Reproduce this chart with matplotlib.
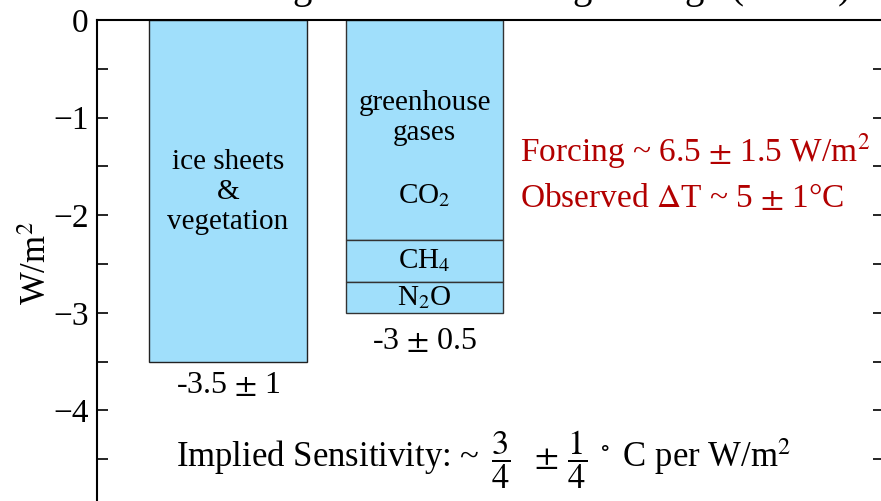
import matplotlib
matplotlib.use("Agg")
import matplotlib.pyplot as plt

plt.rcParams['font.family'] = ['Liberation Serif', 'DejaVu Serif']
plt.rcParams['mathtext.fontset'] = 'stix'

# forcing values (W/m2)
surface_forcing = -3.5
surface_err = 1
co2 = -2.25
ch4 = -0.43
n2o = -0.32
ghg_err = 0.5

bar_x = [1.33, 3.33]
bar_w = 1.6
bar_color = '#a0dffb'
red = '#b20000'

fig = plt.figure(figsize=(8.81, 5.01), dpi=100)
ax = fig.add_axes([97 / 881, -0.01, 787 / 881, 0.97])

# ice sheets & vegetation
ax.bar(bar_x[0], surface_forcing, width=bar_w, color=bar_color,
       edgecolor='#222222', linewidth=1)
# greenhouse gases, stacked
ax.bar(bar_x[1], co2, width=bar_w, color=bar_color, edgecolor='#333333', linewidth=1)
ax.bar(bar_x[1], ch4, bottom=co2, width=bar_w, color=bar_color,
       edgecolor='#333333', linewidth=1)
ax.bar(bar_x[1], n2o, bottom=co2 + ch4, width=bar_w, color=bar_color,
       edgecolor='#333333', linewidth=1)

ax.set_xlim(0, 8)
ax.set_ylim(-4.98, 0)
ax.set_yticks([0, -1, -2, -3, -4])
ax.set_yticks([-0.5, -1.5, -2.5, -3.5, -4.5], minor=True)
ax.set_xticks([])
ax.tick_params(axis='y', which='both', direction='in', length=8, width=1.2,
               right=True, labelsize=24, pad=6)
for s in ['left', 'top']:
    ax.spines[s].set_linewidth(1.5)
ax.spines['bottom'].set_visible(False)
ax.set_ylabel('W/m$^2$', fontsize=25, labelpad=-1)

fs = 21
ax.text(bar_x[0], -1.76, 'ice sheets\n&\nvegetation', ha='center', va='center',
        fontsize=fs, linespacing=1.2)
ax.text(bar_x[1], -1.0, 'greenhouse\ngases', ha='center', va='center',
        fontsize=fs, linespacing=1.2)
ax.text(bar_x[1], -1.8, 'CO$_2$', ha='center', va='center', fontsize=fs)
ax.text(bar_x[1], co2 + ch4 / 2, 'CH$_4$', ha='center', va='center', fontsize=fs)
ax.text(bar_x[1], co2 + ch4 + n2o / 2, 'N$_2$O', ha='center', va='center', fontsize=fs)

ax.text(bar_x[0], surface_forcing - 0.25, f'{surface_forcing} $\\pm$ {surface_err}',
        ha='center', va='center', fontsize=23)
ax.text(bar_x[1], co2 + ch4 + n2o - 0.29, f'{co2 + ch4 + n2o:.0f} $\\pm$ {ghg_err}',
        ha='center', va='center', fontsize=23)

ax.text(4.3, -1.34, 'Forcing ~ 6.5 $\\pm$ 1.5 W/m$^2$', color=red, fontsize=24,
        ha='left', va='center')
ax.text(4.3, -1.83, 'Observed $\\Delta$T ~ 5 $\\pm$ 1°C', color=red, fontsize=24,
        ha='left', va='center')

ax.text(0.80, -4.5,
        r'Implied Sensitivity: ~ $\,\dfrac{3}{4}\ \ \pm\,\dfrac{1}{4}\;^\circ$ C per W/m$^2$',
        fontsize=25, ha='left', va='center')

fig.text(0.60, 1.003, 'Ice Age Climate Forcing Change (W/m$^2$)', fontsize=28,
         ha='center', va='baseline')

fig.savefig('out.png', dpi=100)
